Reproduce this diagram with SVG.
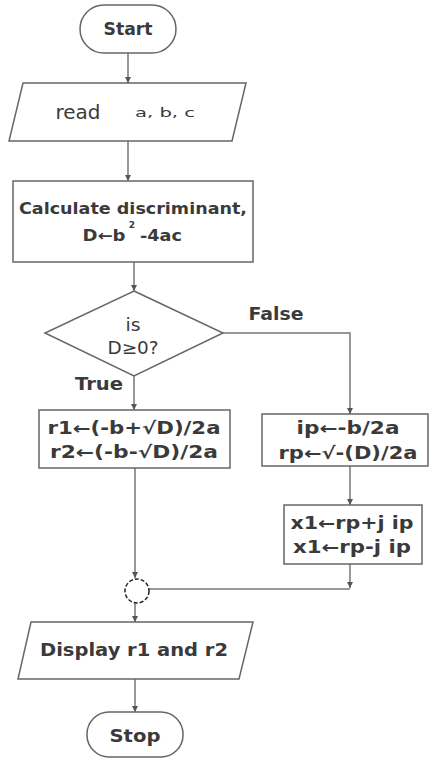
<svg xmlns="http://www.w3.org/2000/svg" width="430" height="760" viewBox="0 0 430 760">
<defs>
<marker id="ah" markerWidth="8" markerHeight="8" refX="6" refY="3.5" orient="auto" markerUnits="userSpaceOnUse">
<path d="M0,0.5 L6,3.5 L0,6.5 Z" fill="#555"/>
</marker>
<style>
.shape{fill:#fff;stroke:#666;stroke-width:1.5}
.line{fill:none;stroke:#777;stroke-width:1.5}
.t{font-family:"DejaVu Sans",Verdana,sans-serif;fill:#3a3a3a;text-anchor:middle;dominant-baseline:central}
.b{font-weight:bold}
</style>
</defs>
<rect width="430" height="760" fill="#fff"/>
<g id="connectors">
<line class="line" x1="128" y1="53" x2="128" y2="83" marker-end="url(#ah)"/>
<line class="line" x1="128" y1="141" x2="128" y2="181" marker-end="url(#ah)"/>
<line class="line" x1="134" y1="262" x2="134" y2="291" marker-end="url(#ah)"/>
<line class="line" x1="134" y1="376" x2="134" y2="410" marker-end="url(#ah)"/>
<polyline class="line" points="223,333 350,333 350,414" marker-end="url(#ah)"/>
<line class="line" x1="350" y1="466" x2="350" y2="505" marker-end="url(#ah)"/>
<line class="line" x1="350" y1="564" x2="350" y2="588" marker-end="url(#ah)"/>
<line class="line" x1="350" y1="589" x2="149" y2="589"/>
<line class="line" x1="135" y1="468" x2="135" y2="578" marker-end="url(#ah)"/>
<line class="line" x1="135" y1="603" x2="135" y2="622" marker-end="url(#ah)"/>
<line class="line" x1="135" y1="679" x2="135" y2="712" marker-end="url(#ah)"/>
<text class="t b" x="99" y="383" font-size="18" textLength="48" lengthAdjust="spacingAndGlyphs">True</text>
<text class="t b" x="276" y="313" font-size="18" textLength="55" lengthAdjust="spacingAndGlyphs">False</text>
</g>
<g id="start">
<rect class="shape" x="80" y="5" width="96" height="48" rx="24"/>
<text class="t b" x="128" y="29" font-size="17" textLength="49" lengthAdjust="spacingAndGlyphs">Start</text>
</g>
<g id="read">
<polygon class="shape" points="23,83 246,83 232,141 9,141"/>
<text class="t" x="78" y="112" font-size="19" textLength="45" lengthAdjust="spacingAndGlyphs">read</text>
<text class="t" x="165" y="112" font-size="13" textLength="60" lengthAdjust="spacingAndGlyphs">a, b, c</text>
</g>
<g id="calc">
<rect class="shape" x="13" y="181" width="240" height="81"/>
<text class="t b" x="133" y="209" font-size="15" textLength="228" lengthAdjust="spacingAndGlyphs">Calculate discriminant,</text>
<text class="t b" x="104" y="236" font-size="15" textLength="43" lengthAdjust="spacingAndGlyphs">D←b</text>
<text class="t b" x="132" y="225" font-size="9">2</text>
<text class="t b" x="161" y="236" font-size="15" textLength="42" lengthAdjust="spacingAndGlyphs">-4ac</text>
</g>
<g id="decision">
<polygon class="shape" points="134,291 223,333 134,376 45,333"/>
<text class="t" x="133" y="325" font-size="17" textLength="15" lengthAdjust="spacingAndGlyphs">is</text>
<text class="t" x="133" y="348" font-size="17" textLength="51" lengthAdjust="spacingAndGlyphs">D≥0?</text>
</g>
<g id="realroots">
<rect class="shape" x="39" y="410" width="191" height="58"/>
<text class="t b" x="134" y="428" font-size="17" textLength="173" lengthAdjust="spacingAndGlyphs">r1←(-b+√D)/2a</text>
<text class="t b" x="134" y="452" font-size="17" textLength="168" lengthAdjust="spacingAndGlyphs">r2←(-b-√D)/2a</text>
</g>
<g id="imagparts">
<rect class="shape" x="262" y="414" width="166" height="52"/>
<text class="t b" x="348" y="428" font-size="17" textLength="103" lengthAdjust="spacingAndGlyphs">ip←-b/2a</text>
<text class="t b" x="348" y="453" font-size="17" textLength="139" lengthAdjust="spacingAndGlyphs">rp←√-(D)/2a</text>
</g>
<g id="complexroots">
<rect class="shape" x="284" y="505" width="138" height="59"/>
<text class="t b" x="352" y="523" font-size="17" textLength="123" lengthAdjust="spacingAndGlyphs">x1←rp+j ip</text>
<text class="t b" x="352" y="547" font-size="17" textLength="118" lengthAdjust="spacingAndGlyphs">x1←rp-j ip</text>
</g>
<g id="merge">
<circle cx="137" cy="591" r="12" fill="#fff" stroke="#222" stroke-width="1.5" stroke-dasharray="4,2"/>
</g>
<g id="display">
<polygon class="shape" points="31,622 253,622 239,679 18,679"/>
<text class="t b" x="134" y="650" font-size="17" textLength="188" lengthAdjust="spacingAndGlyphs">Display r1 and r2</text>
</g>
<g id="stop">
<rect class="shape" x="87" y="712" width="96" height="45" rx="22"/>
<text class="t b" x="135" y="735" font-size="18" textLength="51" lengthAdjust="spacingAndGlyphs">Stop</text>
</g>
</svg>
